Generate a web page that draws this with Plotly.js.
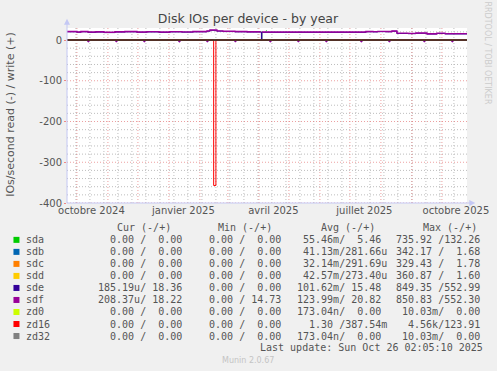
<!DOCTYPE html>
<html><head><meta charset="utf-8">
<script src="https://cdn.plot.ly/plotly-3.0.1.min.js"></script>
<style>html,body{margin:0;padding:0;background:#F0F0F0;}#chart{width:497px;height:371px;}</style>
</head><body><div id="chart"></div>
<script>
// ---------- DATA ----------
const START = '2024-09-21T02:05';
const END = '2025-10-26T02:05';

const labelDates = ['2024-10-15T12:00','2025-01-15T12:00','2025-04-15T12:00','2025-07-15T12:00','2025-10-15T00:00'];
const labelTexts = ['octobre 2024','janvier 2025','avril 2025','juillet 2025','octobre 2025'];
const monthStarts = ['2024-10-01','2024-11-01','2024-12-01','2025-01-01','2025-02-01','2025-03-01','2025-04-01','2025-05-01','2025-06-01','2025-07-01','2025-08-01','2025-09-01','2025-10-01'];
const biweekly = ['2024-09-30','2024-10-14','2024-10-28','2024-11-11','2024-11-25','2024-12-09','2024-12-23','2025-01-06','2025-01-20','2025-02-03','2025-02-17','2025-03-03','2025-03-17','2025-03-31','2025-04-14','2025-04-28','2025-05-12','2025-05-26','2025-06-09','2025-06-23','2025-07-07','2025-07-21','2025-08-04','2025-08-18','2025-09-01','2025-09-15','2025-09-29','2025-10-13'];
const yTickVals = [-400,-300,-200,-100,0];
const yTickText = ['-400','-300','-200','-100','0'];
const yMinorVals = [-380,-360,-340,-320,-280,-260,-240,-220,-180,-160,-140,-120,-80,-60,-40,-20,20];

const devices = ['sda','sdb','sdc','sdd','sde','sdf','zd0','zd16','zd32'];
const colors = ['#00CC00','#0066B3','#FF8000','#FFCC00','#330099','#990099','#CCFF00','#FF0000','#808080'];

// legend statistics (read / write)
const curRead  = ['0.00','0.00','0.00','0.00','185.19u','208.37u','0.00','0.00','0.00'];
const curWrite = ['0.00','0.00','0.00','0.00','18.36','18.22','0.00','0.00','0.00'];
const minRead  = ['0.00','0.00','0.00','0.00','0.00','0.00','0.00','0.00','0.00'];
const minWrite = ['0.00','0.00','0.00','0.00','0.00','14.73','0.00','0.00','0.00'];
const avgRead  = ['55.46m','41.13m','32.14m','42.57m','101.62m','123.99m','173.04n','1.30','173.04n'];
const avgWrite = ['5.46','281.66u','291.69u','273.40u','15.48','20.82','0.00','387.54m','0.00'];
const maxRead  = ['735.92','342.17','329.43','360.87','849.35','850.83','10.03m','4.56k','10.03m'];
const maxWrite = ['132.26','1.68','1.78','1.60','552.99','552.30','0.00','123.91','0.00'];

// time series (write = positive, read magnitude drawn negative)
const sdfWriteDates = ['2024-09-21T02:05','2024-10-01','2024-10-05','2024-10-12','2024-10-20','2024-10-28','2024-11-08','2024-11-18','2024-11-30','2024-12-10','2024-12-22','2025-01-02','2025-01-14','2025-01-25','2025-02-08','2025-02-11','2025-02-18','2025-02-24','2025-03-08','2025-03-20','2025-04-03','2025-04-03T12:00','2025-04-04','2025-07-17','2025-07-24','2025-07-29','2025-08-06','2025-08-12','2025-08-17','2025-08-28','2025-09-05','2025-09-16','2025-09-26','2025-10-04','2025-10-26T02:05'];
const sdfWriteVals = [21.0,19.8,21.0,19.5,20.2,19.0,20.2,20.8,19.8,20.5,19.5,20.6,20.0,20.8,22.5,24.5,22.5,21.5,20.8,20.3,20.3,null,19.5,21.0,20.6,21.3,21.0,22.3,16.8,16.3,17.2,15.3,16.8,15.6,15.6];
const sdeWriteVals = [20.2,19.0,20.2,18.7,19.4,18.2,19.4,20.0,19.0,19.7,18.7,19.8,19.2,20.0,21.7,23.7,21.7,20.7,20.0,19.5,19.5,0,18.7,20.2,19.8,20.5,20.2,21.5,16.0,15.5,16.4,14.5,16.0,14.8,14.8];

const scrubDates = ['2024-10-12','2024-11-09','2024-12-07','2025-01-11','2025-02-08','2025-03-08','2025-04-12','2025-05-10','2025-06-07','2025-07-12','2025-08-09','2025-09-13','2025-10-11'];
const sdfReadVals = [4.6,4.4,4.5,4.8,4.5,4.3,4.6,4.4,4.5,4.7,4.5,4.4,4.6];
const sdeReadVals = [3.6,3.5,3.4,3.8,3.5,3.3,3.6,3.4,3.5,3.7,3.5,3.4,3.6];

const zd16ReadDates = ['2024-09-21T02:05','2025-02-14T18:00','2025-02-17T00:00','2025-10-26T02:05'];
const zd16ReadVals = [0,357,0,0];

const sdaWriteDates = ['2025-04-03','2025-04-03T20:00','2025-04-04T12:00','2025-04-08','2025-04-09'];
const sdaWriteVals = [19.5,1.5,null,22.5,22.5];

const flatDates = [START, END];
const flatVals = [0,0];

// ---------- GEOMETRY HELPERS ----------
const L = 67, R = 466.7, T = 28.3, B = 203;
const px = x => (x - L) / (R - L);
const py = y => (B - y) / (B - T);

function spikeSeries(dates, vals){
  const xs=[START], ys=[0];
  dates.forEach((d,i)=>{
    const t = new Date(d+'T00:00:00Z');
    const n = new Date(t.getTime()+86400000);
    xs.push(d); ys.push(-vals[i]);
    xs.push(n.toISOString().slice(0,10)); ys.push(0);
  });
  xs.push(END); ys.push(0);
  return {x:xs,y:ys};
}

const redGrid = 'rgba(228,120,120,0.7)';
const grayGrid = '#bdbdbd';
const dash = '1px,2px';

const traces = [];
// grid traces (drawn first, beneath the data) through the axis scales
biweekly.forEach(d=>{
  traces.push({type:'scatter',mode:'lines',x:[d,d],y:[-400,29.5],line:{color:grayGrid,width:1,dash:dash},hoverinfo:'skip',showlegend:false});
});
yMinorVals.forEach(v=>{
  traces.push({type:'scatter',mode:'lines',x:[START,END],y:[v,v],line:{color:grayGrid,width:1,dash:dash},hoverinfo:'skip',showlegend:false});
});
monthStarts.forEach(d=>{
  traces.push({type:'scatter',mode:'lines',x:[d,d],y:[-400,29.5],line:{color:redGrid,width:1,dash:dash},hoverinfo:'skip',showlegend:false});
});
yTickVals.forEach(v=>{
  traces.push({type:'scatter',mode:'lines',x:[START,END],y:[v,v],line:{color:redGrid,width:1,dash:dash},hoverinfo:'skip',showlegend:false});
});

function line(x,y,color,w){
  traces.push({type:'scatter',mode:'lines',x:x,y:y,line:{color:color,width:w||1,shape:'hv'},connectgaps:false,hoverinfo:'skip',showlegend:false});
}
// munin draw order
line(flatDates, flatVals.map(v=>-v), colors[0]);
line(sdaWriteDates, sdaWriteVals, colors[0]);
[1,2,3].forEach(i=>{ line(flatDates, flatVals, colors[i]); });
let sdeR = spikeSeries(scrubDates, sdeReadVals);
line(sdeR.x, sdeR.y, colors[4]);
line(sdfWriteDates, sdeWriteVals, colors[4]);
let sdfR = spikeSeries(scrubDates, sdfReadVals);
line(sdfR.x, sdfR.y, colors[5]);
line(sdfWriteDates, sdfWriteVals, colors[5], 1.4);
line(flatDates, flatVals, colors[6]);
line(zd16ReadDates, zd16ReadVals.map(v=>-v), colors[7]);
line(flatDates, flatVals, colors[8]);

// ---------- LEGEND TEXT ----------
const NB = '\u00A0';
function fmt(s){
  let suf = NB, num = s;
  const last = s.slice(-1);
  if (/[a-zA-Z]/.test(last)) { suf = last; num = s.slice(0,-1); }
  while (num.length < 6) num = NB + num;
  return num + suf;
}
const pair = (a,b) => fmt(a) + '/' + fmt(b);

const mono = {family:'DejaVu Sans Mono', size:10, color:'#555'};
const ann = [];
function txt(x,y,text,font,xanchor,extra){
  ann.push(Object.assign({xref:'paper',yref:'paper',x:px(x),y:py(y),text:text,showarrow:false,
    xanchor:xanchor||'left',yanchor:'middle',font:font,borderpad:0,borderwidth:0},extra||{}));
}
const hdrY = 227;
txt(116.7,hdrY,'Cur'+NB+'(-/+)',mono);
txt(218.3,hdrY,'Min'+NB+'(-/+)',mono);
txt(320.7,hdrY,'Avg'+NB+'(-/+)',mono);
txt(422.7,hdrY,'Max'+NB+'(-/+)',mono);

const shapes = [];
devices.forEach((d,i)=>{
  const y = 239.8 + i*12;
  txt(26.5,y,d,mono);
  txt(98.3,y,pair(curRead[i],curWrite[i]),mono);
  txt(197.3,y,pair(minRead[i],minWrite[i]),mono);
  txt(296.7,y,pair(avgRead[i],avgWrite[i]),mono);
  txt(395.5,y,pair(maxRead[i],maxWrite[i]),mono);
  shapes.push({type:'rect',xref:'paper',yref:'paper',x0:px(13.5),x1:px(19.5),y0:py(y+3),y1:py(y-3),
    fillcolor:colors[i],line:{width:0}});
});
txt(482.5,347.5,'Last'+NB+'update:'+NB+'Sun'+NB+'Oct'+NB+'26'+NB+'02:05:10'+NB+'2025',mono,'right');
txt(248,360,'Munin 2.0.67',{family:'DejaVu Sans',size:8,color:'#c4c4c4'},'center');
txt(487,53,'RRDTOOL / TOBI OETIKER',{family:'DejaVu Sans',size:8,color:'#cccccc'},'center',{textangle:90});
txt(11,114,'IOs/second read (-) / write (+)',{family:'DejaVu Sans',size:11,color:'#555'},'center',{textangle:-90});

// axes lines, arrows, zero line
const axisC = '#c4c8f4';
shapes.push({type:'line',xref:'paper',yref:'y',x0:0,x1:1,y0:0,y1:0,line:{color:'#000',width:1},layer:'above'});
shapes.push({type:'line',xref:'paper',yref:'paper',x0:0,x1:0,y0:0,y1:py(23),line:{color:axisC,width:1},layer:'above'});
shapes.push({type:'line',xref:'paper',yref:'paper',x0:0,x1:px(470),y0:0,y1:0,line:{color:axisC,width:1},layer:'above'});
shapes.push({type:'path',xref:'paper',yref:'paper',path:`M ${px(64)},${py(25)} L ${px(70)},${py(25)} L ${px(67)},${py(19)} Z`,fillcolor:axisC,line:{width:0},layer:'above'});
shapes.push({type:'path',xref:'paper',yref:'paper',path:`M ${px(469)},${py(200)} L ${px(469)},${py(206)} L ${px(475)},${py(203)} Z`,fillcolor:axisC,line:{width:0},layer:'above'});

const tickFont = {family:'DejaVu Sans', size:10, color:'#555'};

const layout = {
  width:497, height:371,
  margin:{l:L, r:497-R, t:T, b:371-B, pad:0},
  paper_bgcolor:'#F0F0F0', plot_bgcolor:'#FFFFFF',
  title:{text:'Disk IOs per device - by year', x:248/497, xref:'container', xanchor:'center',
         y:1-19/371, yref:'container', yanchor:'middle', font:{family:'DejaVu Sans', size:12.5, color:'#444'}},
  showlegend:false,
  xaxis:{type:'date', range:[START,END], tickmode:'array', tickvals:labelDates, ticktext:labelTexts,
         showgrid:false, zeroline:false, showline:false, ticks:'', tickfont:tickFont, fixedrange:true},
  yaxis:{range:[-400,29.5], tickmode:'array', tickvals:yTickVals, ticktext:yTickText, showgrid:false,
         zeroline:false, showline:false, ticks:'outside', ticklen:2,
         tickcolor:'#e88', tickfont:tickFont, fixedrange:true},
  shapes:shapes,
  annotations:ann
};

Plotly.newPlot('chart', traces, layout, {displayModeBar:false, staticPlot:true});
</script></body></html>
